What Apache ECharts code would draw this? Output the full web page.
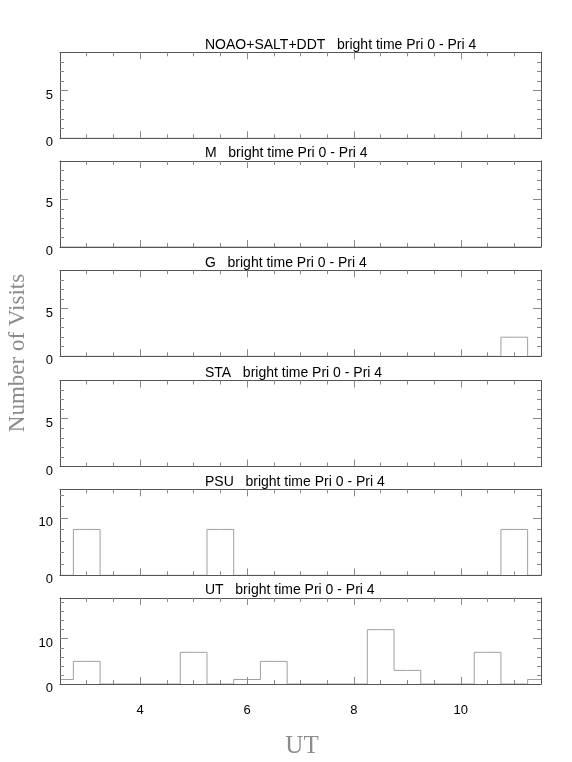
<!DOCTYPE html>
<html>
<head>
<meta charset="utf-8">
<script src="https://cdn.jsdelivr.net/npm/echarts@6/dist/echarts.min.js"></script>
<style>html,body{margin:0;padding:0;background:#fff}#c{width:572px;height:762px}</style>
</head>
<body>
<div id="c"></div>
<script>
// ---- data ----
var panelNames = ["NOAO+SALT+DDT", "M", "G", "STA", "PSU", "UT"];
var titleSuffix = "bright time Pri 0 - Pri 4";
var binCenters = [2.5, 3.0, 3.5, 4.0, 4.5, 5.0, 5.5, 6.0, 6.5, 7.0, 7.5, 8.0, 8.5, 9.0, 9.5, 10.0, 10.5, 11.0, 11.5];
var visitsNOAO = [0, 0, 0, 0, 0, 0, 0, 0, 0, 0, 0, 0, 0, 0, 0, 0, 0, 0, 0];
var visitsM    = [0, 0, 0, 0, 0, 0, 0, 0, 0, 0, 0, 0, 0, 0, 0, 0, 0, 0, 0];
var visitsG    = [0, 0, 0, 0, 0, 0, 0, 0, 0, 0, 0, 0, 0, 0, 0, 0, 0, 2, 0];
var visitsSTA  = [0, 0, 0, 0, 0, 0, 0, 0, 0, 0, 0, 0, 0, 0, 0, 0, 0, 0, 0];
var visitsPSU  = [0, 8, 0, 0, 0, 0, 8, 0, 0, 0, 0, 0, 0, 0, 0, 0, 0, 8, 0];
var visitsUT   = [1, 5, 0, 0, 0, 7, 0, 1, 5, 0, 0, 0, 12, 3, 0, 0, 7, 0, 1];
var yMax = [9, 9, 9, 9, 15, 19];
var xMajorTicks = [4, 6, 8, 10];
var xMinorTicks = [3, 3.5, 4.5, 5, 5.5, 6.5, 7, 7.5, 8.5, 9, 9.5, 10.5, 11];
var yMajorTicks = [[5], [5], [5], [5], [10], [10]];
var yMinorTicks = [
  [1, 2, 3, 4, 6, 7, 8], [1, 2, 3, 4, 6, 7, 8], [1, 2, 3, 4, 6, 7, 8], [1, 2, 3, 4, 6, 7, 8],
  [2, 4, 6, 8, 12, 14], [2, 4, 6, 8, 12, 14, 16, 18]
];
var yLabels = [[0, 5], [0, 5], [0, 5], [0, 5], [0, 10], [0, 10]];
var xLabels = [4, 6, 8, 10];
var seriesValues = [visitsNOAO, visitsM, visitsG, visitsSTA, visitsPSU, visitsUT];

// ---- layout ----
var panelTops = [52.3, 161, 270.3, 380.5, 489.3, 598];
var panelH = 86;
var frameColor = '#555555';
var tickColor = '#8a8a8a';
var barColor = '#a0a0a0';
var sans = '"Liberation Sans", Arial, Helvetica, sans-serif';
var serif = '"Liberation Serif", "Times New Roman", serif';

var grids = [], xAxes = [], yAxes = [], series = [], titles = [];

panelNames.forEach(function (name, i) {
  grids.push({ left: 60, width: 481, top: panelTops[i], height: panelH });
  titles.push({
    text: name + '   ' + titleSuffix,
    left: 205, top: panelTops[i] - 14.5, padding: 0,
    textStyle: { fontFamily: sans, fontSize: 14, fontWeight: 'normal', color: '#000' }
  });
  var last = i === panelNames.length - 1;
  function xa(pos, major) {
    return {
      gridIndex: i, type: 'value', min: 2.5, max: 11.5, position: pos, z: 5,
      axisLine: { show: major, onZero: false, lineStyle: { color: frameColor, width: 1 } },
      axisTick: { show: true, inside: true, length: major ? 7 : 4,
        customValues: major ? xMajorTicks : xMinorTicks,
        lineStyle: { color: tickColor, width: 1 } },
      axisLabel: (major && pos === 'bottom' && last) ? {
        show: true, customValues: xLabels, margin: 20,
        fontFamily: sans, fontSize: 13, color: '#000'
      } : { show: false },
      splitLine: { show: false }
    };
  }
  function ya(pos, major) {
    return {
      gridIndex: i, type: 'value', min: 0, max: yMax[i], position: pos, z: 5,
      axisLine: { show: major, onZero: false, lineStyle: { color: frameColor, width: 1 } },
      axisTick: { show: true, inside: true, length: major ? 8 : 4,
        customValues: major ? yMajorTicks[i] : yMinorTicks[i],
        lineStyle: { color: tickColor, width: 1 } },
      axisLabel: (major && pos === 'left') ? {
        show: true, customValues: yLabels[i], margin: 7,
        verticalAlign: 'top', lineHeight: 9,
        fontFamily: sans, fontSize: 13, color: '#000'
      } : { show: false },
      splitLine: { show: false }
    };
  }
  var xBase = xAxes.length;
  xAxes.push(xa('bottom', true), xa('bottom', false), xa('top', true), xa('top', false));
  var yBase = yAxes.length;
  yAxes.push(ya('left', true), ya('left', false), ya('right', true), ya('right', false));
  series.push({
    type: 'line', xAxisIndex: xBase, yAxisIndex: yBase, step: 'middle',
    symbol: 'none', silent: true, z: 1, animation: false,
    lineStyle: { color: barColor, width: 1 },
    data: binCenters.map(function (c, k) { return [c, seriesValues[i][k]]; })
  });
});

var chart = echarts.init(document.getElementById('c'), null, { renderer: 'canvas' });
chart.setOption({
  animation: false,
  backgroundColor: '#fff',
  title: titles,
  grid: grids,
  xAxis: xAxes,
  yAxis: yAxes,
  series: series,
  graphic: [
    { type: 'text', x: 18, y: 353, rotation: Math.PI / 2,
      style: { text: 'Number of Visits', font: '23px ' + serif, fill: '#8c8c8c',
        align: 'center', verticalAlign: 'middle' } },
    { type: 'text', x: 302, y: 746,
      style: { text: 'UT', font: '25px ' + serif, fill: '#8c8c8c',
        align: 'center', verticalAlign: 'middle' } }
  ]
});
</script>
</body>
</html>
